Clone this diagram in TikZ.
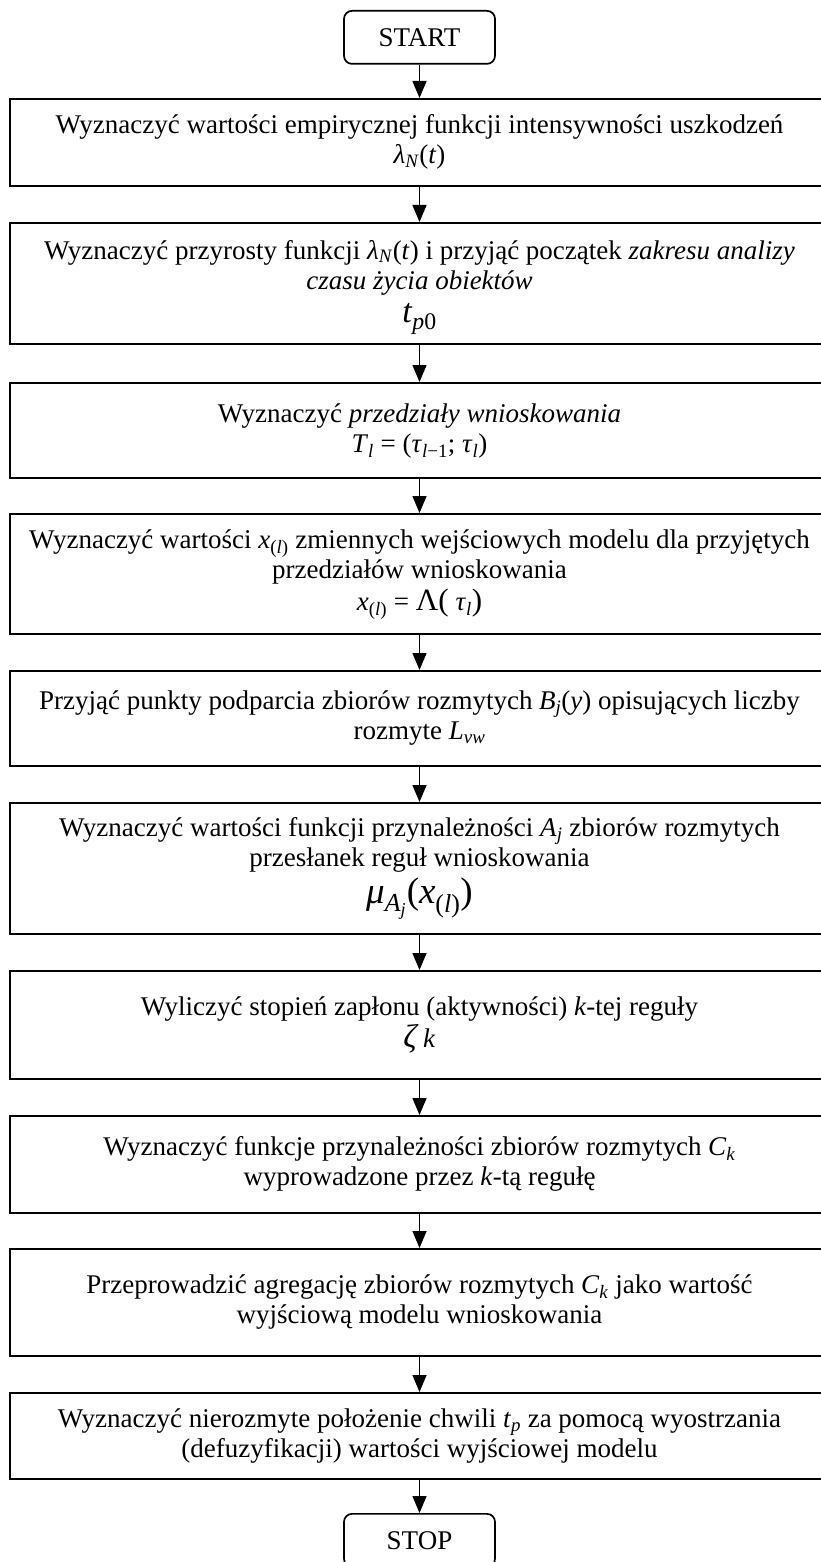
\documentclass[tikz,border=0pt]{standalone}
\usepackage{fontspec}
\setmainfont{Liberation Serif}
\usetikzlibrary{arrows.meta}
\newcommand{\fs}{\fontsize{27}{30}\selectfont}
\newcommand{\sbi}[1]{\textsubscript{\textit{#1}}}
\tikzset{
  stepbox/.style={draw, line width=1.7pt, minimum width=819pt, minimum height=#1, inner sep=0pt, anchor=north},
  steptext/.style={align=center, font=\fs, inner sep=0pt},
  termbox/.style={draw, line width=1.7pt, rounded corners=8pt, minimum width=151pt, minimum height=53pt, font=\fs, inner sep=0pt, anchor=north},
  flow/.style={-{Triangle[length=17pt,width=14pt]}, line width=1.5pt},
}
\begin{document}
\begin{tikzpicture}[x=1pt,y=-1pt]
\useasboundingbox (0,0) rectangle (821,1562);
\node[termbox] (start) at (419.5,10) {START};
\node[stepbox=87pt] (b1) at (419.5,98) {};
\node[stepbox=121pt] (b2) at (419.5,222) {};
\node[stepbox=95pt] (b3) at (419.5,382) {};
\node[stepbox=120pt] (b4) at (419.5,513) {};
\node[stepbox=95pt] (b5) at (419.5,670) {};
\node[stepbox=131pt] (b6) at (419.5,802) {};
\node[stepbox=108pt] (b7) at (419.5,970) {};
\node[stepbox=97pt] (b8) at (419.5,1115) {};
\node[stepbox=107pt] (b9) at (419.5,1248) {};
\node[stepbox=86pt] (b10) at (419.5,1392) {};
\node[termbox] (stop) at (419.5,1513) {STOP};
\node[steptext] (t1) at ([yshift=0pt]b1.center) {Wyznaczyć wartości empirycznej funkcji intensywności uszkodzeń\\\textit{λ}\sbi{N}(\textit{t})};
\node[steptext] (t2) at ([yshift=-4pt]b2.center) {Wyznaczyć przyrosty funkcji \textit{λ}\sbi{N}(\textit{t}) i przyjąć początek \textit{zakresu analizy}\\\textit{czasu życia obiektów}\\[3pt]{\fontsize{34}{36}\selectfont\textit{t}\textsubscript{\textit{p}0}}};
\node[steptext] (t3) at ([yshift=-1pt]b3.center) {Wyznaczyć \textit{przedziały wnioskowania}\\\textit{T}\sbi{l} = (\textit{τ}\textsubscript{\textit{l}−1}; \textit{τ}\sbi{l})};
\node[steptext] (t4) at ([yshift=-1pt]b4.center) {Wyznaczyć wartości \textit{x}\textsubscript{(\textit{l})} zmiennych wejściowych modelu dla przyjętych\\przedziałów wnioskowania\\[2pt]\textit{x}\textsubscript{(\textit{l})} = {\fontsize{31}{31}\selectfont Λ(} \textit{τ}\sbi{l}{\fontsize{31}{31}\selectfont )}};
\node[steptext] (t5) at ([yshift=0pt]b5.center) {Przyjąć punkty podparcia zbiorów rozmytych \textit{B}\sbi{j}(\textit{y}) opisujących liczby\\rozmyte \textit{L}\sbi{vw}};
\node[steptext] (t6) at ([yshift=0pt]b6.center) {Wyznaczyć wartości funkcji przynależności \textit{A}\sbi{j} zbiorów rozmytych\\przesłanek reguł wnioskowania\\[4pt]{\fontsize{37}{40}\selectfont\textit{μ}\textsubscript{\textit{A}\sbi{j}}(\textit{x}\textsubscript{(\textit{l})})}};
\node[steptext] (t7) at ([yshift=0pt]b7.center) {Wyliczyć stopień zapłonu (aktywności) \textit{k}-tej reguły\\[2pt]{\fontsize{33}{34}\selectfont\textit{ζ}}\,\textit{k}};
\node[steptext] (t8) at ([yshift=0pt]b8.center) {Wyznaczyć funkcje przynależności zbiorów rozmytych \textit{C}\sbi{k}\\wyprowadzone przez \textit{k}-tą regułę};
\node[steptext] (t9) at ([yshift=0pt]b9.center) {Przeprowadzić agregację zbiorów rozmytych \textit{C}\sbi{k} jako wartość\\wyjściową modelu wnioskowania};
\node[steptext] (t10) at ([yshift=0pt]b10.center) {Wyznaczyć nierozmyte położenie chwili \textit{t}\sbi{p} za pomocą wyostrzania\\(defuzyfikacji) wartości wyjściowej modelu};
\draw[flow] (start) -- (b1);
\draw[flow] (b1) -- (b2);
\draw[flow] (b2) -- (b3);
\draw[flow] (b3) -- (b4);
\draw[flow] (b4) -- (b5);
\draw[flow] (b5) -- (b6);
\draw[flow] (b6) -- (b7);
\draw[flow] (b7) -- (b8);
\draw[flow] (b8) -- (b9);
\draw[flow] (b9) -- (b10);
\draw[flow] (b10) -- (stop);
\end{tikzpicture}
\end{document}
